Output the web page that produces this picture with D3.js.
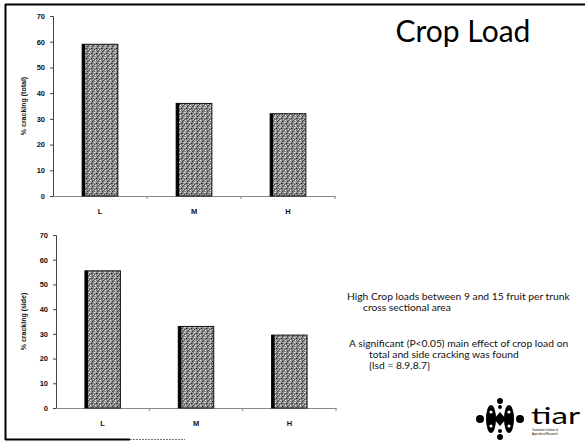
<!DOCTYPE html>
<html>
<head>
<meta charset="utf-8">
<script src="https://cdn.jsdelivr.net/npm/d3@7"></script>
<style>
  body { margin: 0; background: #fff; }
  svg { display: block; }
</style>
</head>
<body>
<div id="chart"></div>
<script>
// data
var categories = ["L", "M", "H"];
var totalCracking = [59, 36, 32];
var sideCracking = [55.5, 33, 29.5];
var yTicks = [0, 10, 20, 30, 40, 50, 60, 70];

var noteLines = [
  "High Crop loads between 9 and 15 fruit per trunk",
  "cross sectional area",
  "A significant (P<0.05) main effect of crop load on",
  "total and side cracking was found",
  "{lsd = 8.9,8.7}"
];

var svg = d3.select("#chart").append("svg")
  .attr("width", 585)
  .attr("height", 441);

// stippled grey fill like the scanned bars
var defs = svg.append("defs");
var pat = defs.append("pattern")
  .attr("id", "stipple")
  .attr("patternUnits", "userSpaceOnUse")
  .attr("width", 5).attr("height", 5);
pat.append("rect").attr("width", 5).attr("height", 5).attr("fill", "#8a8a8a");
[[0,0,"#eee"],[2,1,"#333"],[4,2,"#ddd"],[1,3,"#222"],[3,4,"#ccc"],
 [3,0,"#555"],[0,2,"#bbb"],[2,3,"#666"],[4,4,"#444"],[1,1,"#aaa"]]
  .forEach(function(p) {
    pat.append("rect").attr("x", p[0]).attr("y", p[1])
      .attr("width", 1).attr("height", 1).attr("fill", p[2]);
  });

// slide frame (left, top, partial bottom)
svg.append("line").attr("x1", 5.5).attr("x2", 5.5).attr("y1", 4).attr("y2", 440)
  .attr("stroke", "#000").attr("stroke-width", 2);
svg.append("line").attr("x1", 5).attr("x2", 585).attr("y1", 4.5).attr("y2", 4.5)
  .attr("stroke", "#000").attr("stroke-width", 2);
svg.append("line").attr("x1", 5).attr("x2", 130).attr("y1", 439.5).attr("y2", 439.5)
  .attr("stroke", "#000").attr("stroke-width", 2);
svg.append("line").attr("x1", 130).attr("x2", 185).attr("y1", 439.5).attr("y2", 439.5)
  .attr("stroke", "#777").attr("stroke-width", 1).attr("stroke-dasharray", "2,1");

var barChart = function(values, label, cfg) {
  var x = d3.scaleBand()
    .domain(categories)
    .range([cfg.left, cfg.right])
    .padding(0);
  var y = d3.scaleLinear()
    .domain([0, 70])
    .range([cfg.bottom, cfg.top]);

  var g = svg.append("g");

  // Y axis
  var yAxis = g.append("g")
    .attr("transform", "translate(" + cfg.left + ",0)")
    .call(d3.axisLeft(y).tickValues(yTicks).tickSize(3).tickPadding(5));
  yAxis.select(".domain").attr("stroke", "#444");
  yAxis.selectAll(".tick line").attr("stroke", "#444");
  yAxis.selectAll("text")
    .attr("font-family", "Liberation Sans, Arial, sans-serif")
    .attr("font-size", "7.5px")
    .attr("font-weight", "bold")
    .attr("fill", "#111");

  // X axis: line with ticks between categories
  var xAxis = g.append("g")
    .attr("transform", "translate(0," + cfg.bottom + ")")
    .call(d3.axisBottom(x).tickSize(0).tickPadding(cfg.labelPad));
  xAxis.select(".domain").attr("stroke", "#888");
  xAxis.selectAll("text")
    .attr("font-family", "Liberation Sans, Arial, sans-serif")
    .attr("font-size", "7.5px")
    .attr("font-weight", "bold")
    .attr("fill", "#111");
  g.selectAll(".sep")
    .data(categories.slice(1).concat(["end"]))
    .enter()
    .append("line")
      .attr("x1", function(d) { return d === "end" ? cfg.right : x(d); })
      .attr("x2", function(d) { return d === "end" ? cfg.right : x(d); })
      .attr("y1", cfg.bottom)
      .attr("y2", cfg.bottom + 3)
      .attr("stroke", "#888");

  var bw = x.bandwidth() * 0.38;

  // Bars
  g.selectAll(".bar")
    .data(values)
    .enter()
    .append("rect")
      .attr("x", function(d, i) { return x(categories[i]) + (x.bandwidth() - bw) / 2; })
      .attr("y", function(d) { return y(d); })
      .attr("width", bw)
      .attr("height", function(d) { return y(0) - y(d); })
      .attr("fill", "url(#stipple)")
      .attr("stroke", "#111")
      .attr("stroke-width", 1);
  // heavy dark left edge
  g.selectAll(".edge")
    .data(values)
    .enter()
    .append("rect")
      .attr("x", function(d, i) { return x(categories[i]) + (x.bandwidth() - bw) / 2; })
      .attr("y", function(d) { return y(d); })
      .attr("width", 3)
      .attr("height", function(d) { return y(0) - y(d); })
      .attr("fill", "#000");

  // Y axis title
  g.append("text")
    .attr("transform", "translate(26," + ((cfg.top + cfg.bottom) / 2) + ")rotate(-90)")
    .attr("text-anchor", "middle")
    .attr("font-family", "Liberation Sans, Arial, sans-serif")
    .attr("font-size", "7px")
    .attr("font-weight", "bold")
    .attr("fill", "#111")
    .text(label);
};

barChart(totalCracking, "% cracking (total)",
  {left: 53, right: 335, top: 16, bottom: 196, labelPad: 13});
barChart(sideCracking, "% cracking (side)",
  {left: 56, right: 336, top: 235, bottom: 408, labelPad: 13});

// Title
svg.append("text")
  .attr("x", 463)
  .attr("y", 42)
  .attr("text-anchor", "middle")
  .attr("font-family", "Lato, 'Open Sans', sans-serif")
  .attr("font-size", "30px")
  .attr("fill", "#000")
  .text("Crop Load");

// Notes
var notePos = [
  {x: 347, y: 300},
  {x: 363, y: 311},
  {x: 349, y: 347},
  {x: 369, y: 358},
  {x: 369, y: 369}
];
svg.selectAll(".note")
  .data(noteLines)
  .enter()
  .append("text")
    .attr("transform", function(d, i) {
      return "translate(" + notePos[i].x + "," + notePos[i].y + ")scale(1.03,1)";
    })
    .attr("font-family", "Lato, sans-serif")
    .attr("font-size", "10px")
    .attr("fill", "#111")
    .text(function(d) { return d; });

// tiar logo
var logo = svg.append("g").attr("transform", "translate(500,419)");
logo.append("ellipse").attr("cx", -9).attr("cy", 0).attr("rx", 5).attr("ry", 14).attr("fill", "#000");
logo.append("ellipse").attr("cx", 9).attr("cy", 0).attr("rx", 5).attr("ry", 14).attr("fill", "#000");
logo.append("path").attr("d", "M0,-7 L6,0 L0,7 L-6,0 Z").attr("fill", "#000");
[[0,-18,3],[0,18,3],[-20,0,4],[20,0,4],[0,-12,2],[0,12,2]].forEach(function(c) {
  logo.append("circle").attr("cx", c[0]).attr("cy", c[1]).attr("r", c[2]).attr("fill", "#000");
});
[[-9,-7],[-9,7],[9,-7],[9,7]].forEach(function(c) {
  logo.append("circle").attr("cx", c[0]).attr("cy", c[1]).attr("r", 1.6).attr("fill", "#fff");
});
svg.append("text")
  .attr("x", 531)
  .attr("y", 424)
  .attr("font-family", "Lato, sans-serif")
  .attr("font-size", "24px")
  .attr("textLength", 49)
  .attr("lengthAdjust", "spacingAndGlyphs")
  .attr("fill", "#000")
  .text("tiar");
svg.append("text")
  .attr("x", 532).attr("y", 431)
  .attr("font-family", "Liberation Sans, sans-serif")
  .attr("font-size", "3px")
  .attr("textLength", 26)
  .attr("lengthAdjust", "spacingAndGlyphs")
  .text("Tasmanian Institute of");
svg.append("text")
  .attr("x", 532).attr("y", 435)
  .attr("font-family", "Liberation Sans, sans-serif")
  .attr("font-size", "3px")
  .attr("textLength", 26)
  .attr("lengthAdjust", "spacingAndGlyphs")
  .text("Agricultural Research");
</script>
</body>
</html>
